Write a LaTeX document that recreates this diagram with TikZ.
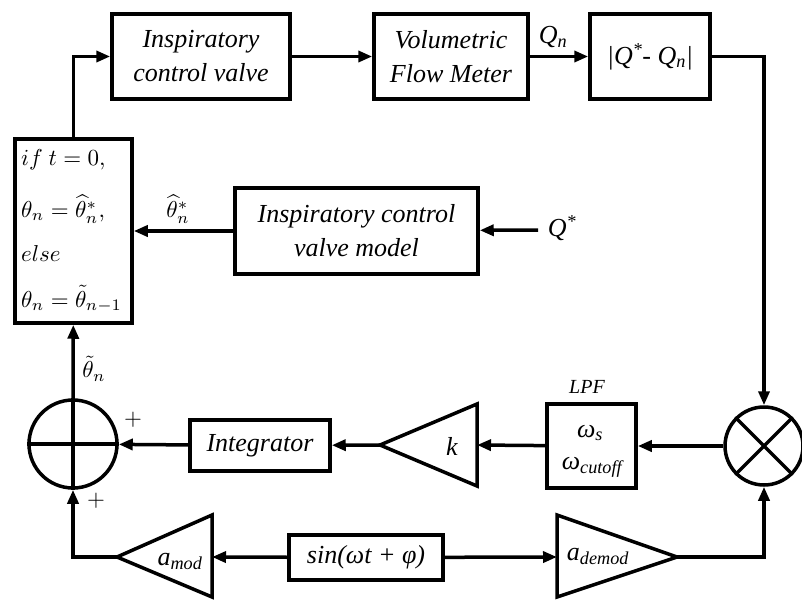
\documentclass[tikz,border=0pt]{standalone}
\usepackage{fontspec}
\setmainfont{Liberation Serif}
\usepackage{tikz}
\usetikzlibrary{arrows.meta,calc}
\newcommand{\mth}[1]{\scalebox{2.3}{$#1$}}
\tikzstyle{blk}=[draw, line width=3.5pt, align=center, inner sep=2pt, font=\fontsize{26}{34}\selectfont\itshape]
\tikzstyle{sig}=[line width=3.5pt, -{Triangle[length=14pt,width=11pt]}]
\tikzstyle{wire}=[line width=3.5pt, line join=miter]
\tikzstyle{lbl}=[inner sep=0pt, font=\fontsize{26}{34}\selectfont\itshape]
\tikzstyle{eq}=[inner sep=0pt, anchor=west]

\begin{document}
\begin{tikzpicture}[x=1pt,y=-1pt]
\useasboundingbox (0,0) rectangle (802,599);
% forward path
\node[blk, minimum width=178, minimum height=85] (icv) at (201,56.5) {Inspiratory\\control valve};
\node[blk, minimum width=154, minimum height=85] (vfm) at (451,56.5) {Volumetric\\Flow Meter};
\node[blk, minimum width=120, minimum height=85] (err) at (650,56.5) {|Q\textsuperscript{*}- Q\textsubscript{n}|};
\node[blk, minimum width=117, minimum height=184] (sel) at (73.5,231) {};
\node[eq] (l1) at (21,160) {\mth{if\ t=0,}};
\node[eq] (l2) at (21,209) {\mth{\theta_n=\widehat{\theta}_n^*,}};
\node[eq] (l3) at (21,254) {\mth{else}};
\node[eq] (l4) at (21,299) {\mth{\theta_n=\tilde{\theta}_{n-1}}};
\node[blk, minimum width=243, minimum height=86] (model) at (356.5,231) {Inspiratory control\\valve model};
\coordinate (qin) at (538,230);
\node[lbl] (qref) at (562,228) {Q\textsuperscript{*}};
% feedback loop
\node[circle, draw, line width=3.5pt, minimum size=88] (sum) at (73,444) {};
\draw[wire] (sum.north) -- (sum.south) (sum.west) -- (sum.east);
\node[circle, draw, line width=3.5pt, minimum size=78] (mult) at (764,446) {};
\draw[wire] (mult.north west) -- (mult.south east) (mult.north east) -- (mult.south west);
\node[blk, minimum width=140, minimum height=51] (integ) at (260,445.5) {Integrator};
\node[blk, minimum width=89, minimum height=84] (lpf) at (591.5,446) {};
\node[lbl] (ws) at (590,433) {ω\textsubscript{s}};
\node[lbl] (wc) at (592,467) {ω\textsubscript{cutoff}};
\node[lbl, font=\fontsize{20}{24}\selectfont\itshape] (lpfname) at (587,387) {LPF};
\coordinate (kout) at (380,445);
\coordinate (kin) at (477,445);
\draw[wire] (kout) -- (477,404) -- (477,486) -- cycle;
\node[lbl] (k) at (452,446) {k};
% dither
\node[blk, minimum width=154, minimum height=45] (sinb) at (366,557.5) {sin(ωt + φ)};
\coordinate (modout) at (117,557);
\coordinate (modin) at (212,557);
\draw[wire] (modout) -- (212,515) -- (212,597) -- cycle;
\node[lbl] (amod) at (180,561) {a\textsubscript{mod}};
\coordinate (demin) at (557,557);
\coordinate (demout) at (677,557);
\draw[wire] (demout) -- (557,515) -- (557,597) -- cycle;
\node[lbl] (ademod) at (598,556) {a\textsubscript{demod}};
% connectors
\draw[sig] (sel.north) |- (icv.west);
\draw[sig] (icv) -- (vfm);
\draw[sig] (vfm) -- (err);
\node[lbl] (qn) at (553,37) {Q\textsubscript{n}};
\draw[sig] (err.east) -| (mult.north);
\draw[sig] (model) -- (sel);
\node[inner sep=0pt] (thhat) at (178,209) {\mth{\widehat{\theta}_n^*}};
\draw[sig] (qin) -- (model);
\draw[sig] (mult) -- (lpf);
\draw[sig] (lpf) -- (kin);
\draw[sig] (kout) -- (integ);
\draw[sig] (integ) -- (sum);
\node[inner sep=0pt] (p1) at (133,420) {\mth{+}};
\draw[sig] (sum) -- (sel);
\node[inner sep=0pt] (thtil) at (94,369) {\mth{\tilde{\theta}_n}};
\draw[sig] (sinb) -- (modin);
\draw[sig] (sinb) -- (demin);
\draw[sig] (modout) -| (sum.south);
\node[inner sep=0pt] (p2) at (96,501) {\mth{+}};
\draw[sig] (demout) -| (mult.south);
\end{tikzpicture}
\end{document}
